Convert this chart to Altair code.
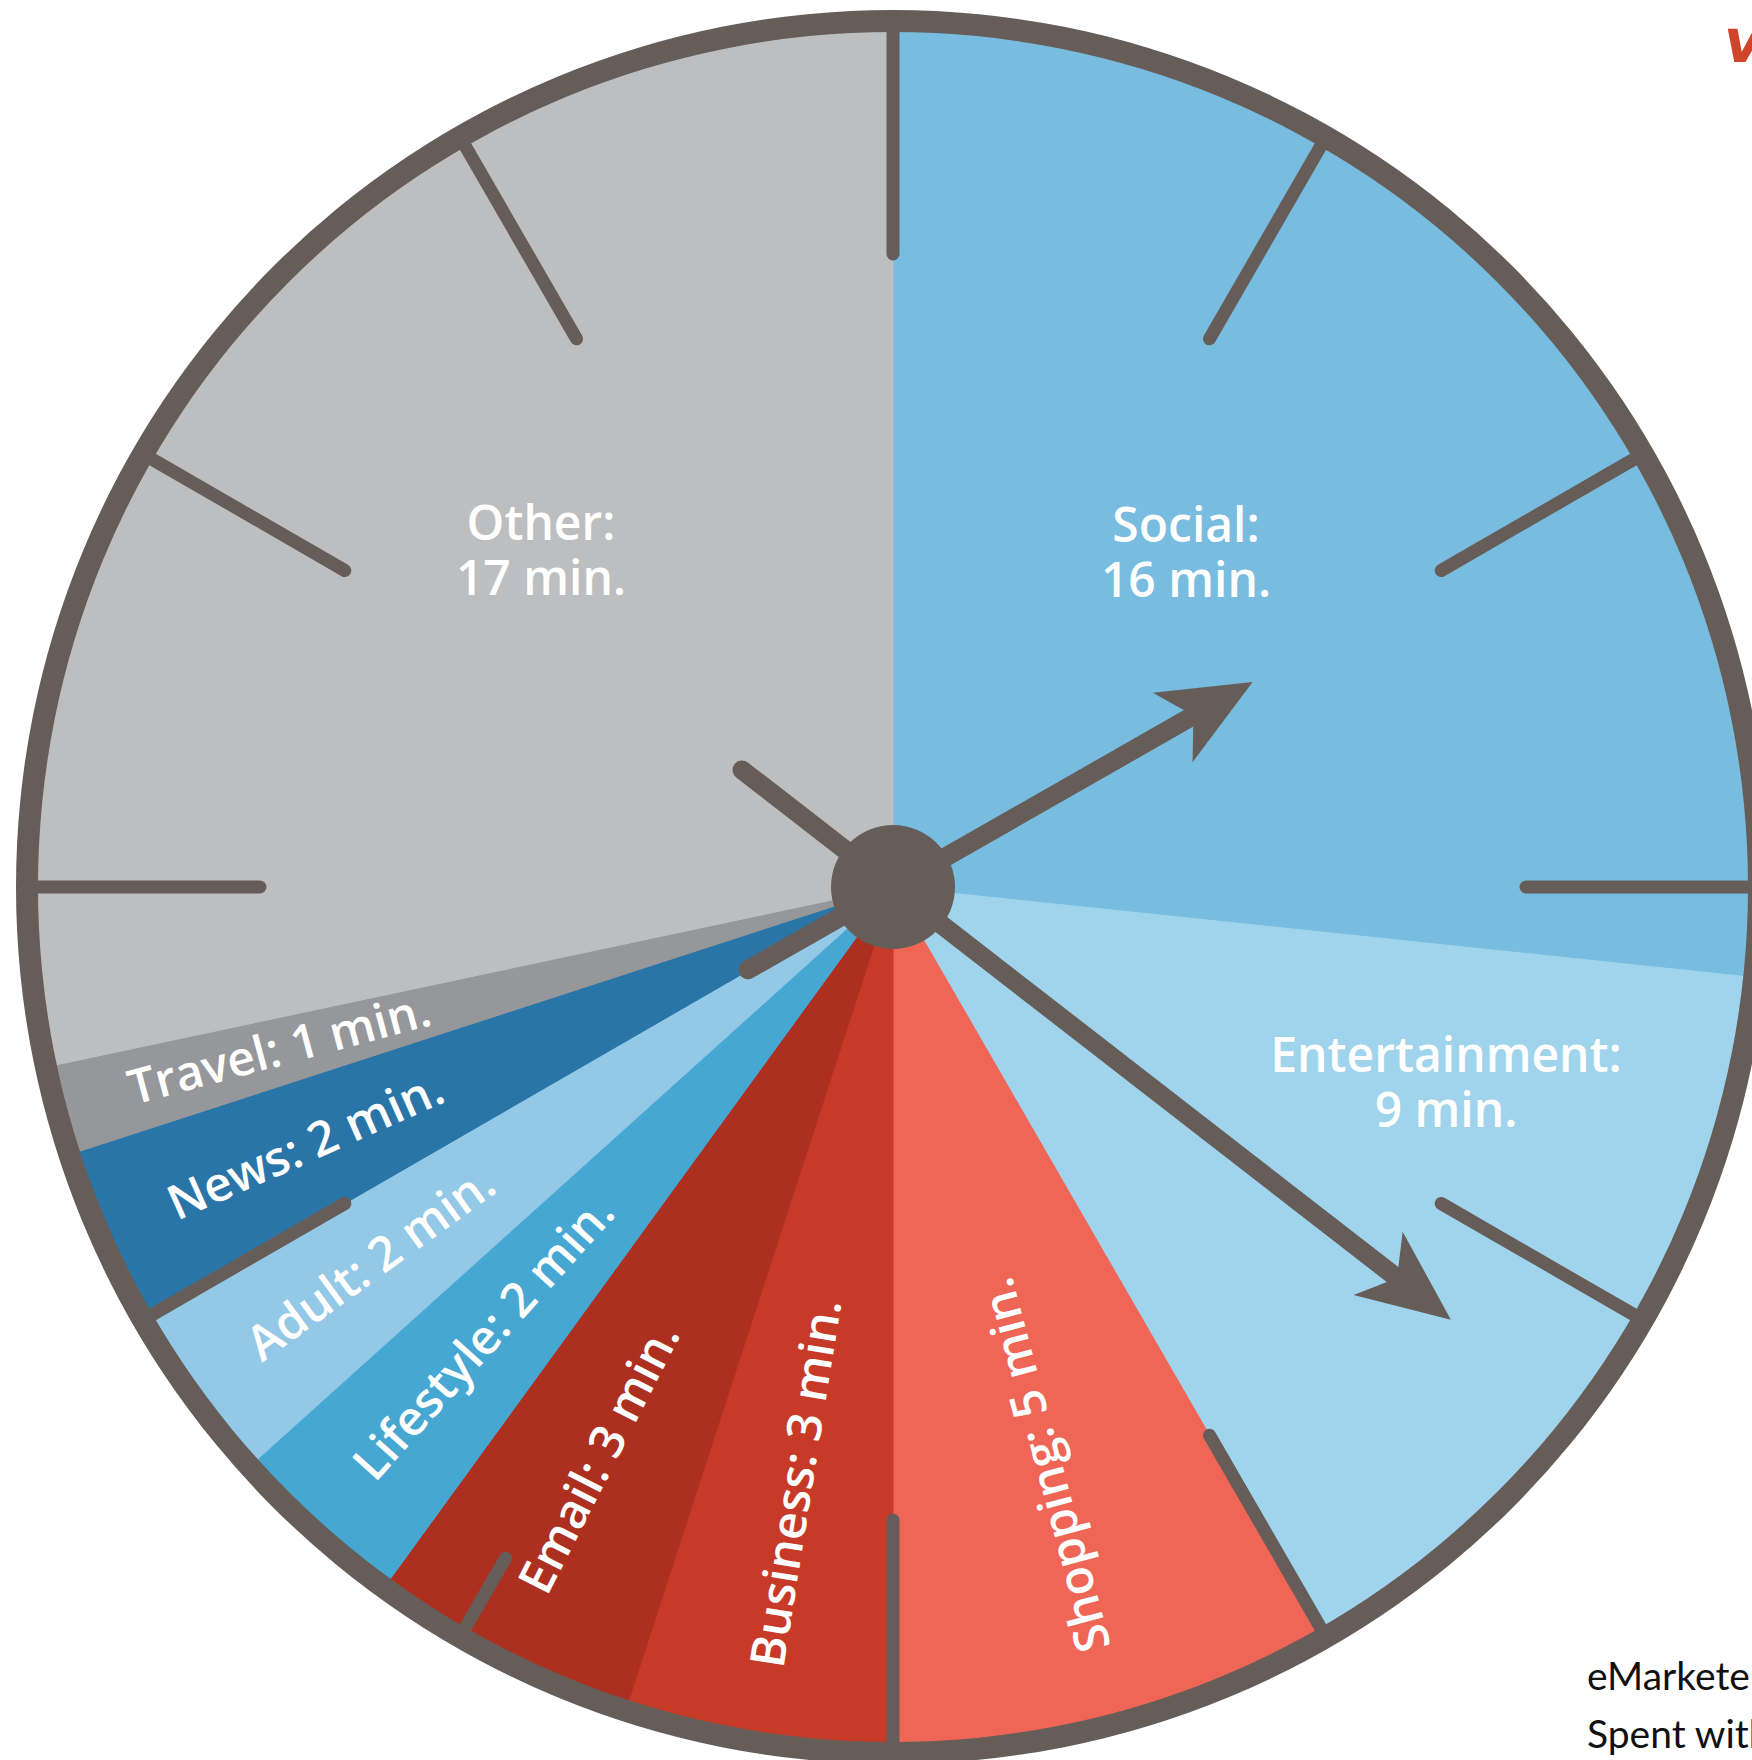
import altair as alt
import numpy as np
import pandas as pd

# ---------------- data ----------------
categories = ["Social", "Entertainment", "Shopping", "Business", "Email",
              "Lifestyle", "Adult", "News", "Travel", "Other"]
minutes = [16, 9, 5, 3, 3, 2, 2, 2, 1, 17]
slice_colors = ["#78BCDF", "#9FD4EC", "#EF6657", "#C73A27", "#AC2F1F",
                "#45A7D2", "#94C8E7", "#2A75A8", "#96979B", "#BDBEC0"]
big_categories = ["Social", "Entertainment", "Other"]

hours = list(range(12))

hand_names = ["hour", "minute"]
hand_angles = [60.3, 127.8]      # degrees clockwise from 12 o'clock
hand_tip = [414, 706]            # px from centre to arrow tip
hand_tail = [167, 191]           # px of counterweight tail

footer_lines = ["eMarketer", "Spent with"]
corner_text = "v"

# ---------------- layout ----------------
W, H = 1752, 1760
CX, CY = 893, 887
R_SLICE = 866
RIM_IN, RIM_OUT = 855, 877
TICK_IN = 633
TICK_IN_SHORT = {7: 775}
HUB_R = 62
DARK = "#675D58"
LABEL_R = 790
BIG_POS = {"Social": (1186, 542), "Entertainment": (1446, 1072), "Other": (541, 540)}
ARROW_PATH = "M0,-1L0.87,1L0,0.48L-0.87,1Z"
ARROW_HALF = 46

# ---------------- tables ----------------
df = pd.DataFrame({"cat": categories, "minutes": minutes, "idx": range(len(categories))})
total = float(sum(minutes))
cum = np.cumsum(minutes)
mid = (cum - np.array(minutes) / 2.0) / total * 360.0
df["text_angle"] = (mid + 90.0) % 360.0
df["rot_label"] = [("" if c in big_categories else f"{c}: {m} min.")
                   for c, m in zip(categories, minutes)]

big_df = pd.DataFrame({
    "label": [f"{c}:\n{m} min." for c, m in zip(categories, minutes) if c in big_categories],
    "px": [BIG_POS[c][0] for c in categories if c in big_categories],
    "py": [BIG_POS[c][1] for c in categories if c in big_categories],
})

tick_df = pd.DataFrame({"h": hours, "r_in": [TICK_IN_SHORT.get(h, TICK_IN) for h in hours]})
hand_df = pd.DataFrame({"name": hand_names, "a": hand_angles, "tip": hand_tip, "tail": hand_tail})

color_scale = alt.Scale(domain=categories, range=slice_colors)

# ---------------- layers ----------------
slices = alt.Chart(df).mark_arc(outerRadius=R_SLICE).encode(
    theta=alt.Theta("minutes:Q", stack=True),
    color=alt.Color("cat:N", scale=color_scale, legend=None),
    stroke=alt.Stroke("cat:N", scale=color_scale, legend=None),
    order=alt.Order("idx:Q"),
    x=alt.value(CX), y=alt.value(CY),
)

ticks = alt.Chart(tick_df).transform_calculate(
    x1=f"{CX} + datum.r_in * sin(datum.h * PI / 6)",
    y1=f"{CY} - datum.r_in * cos(datum.h * PI / 6)",
    x2=f"{CX} + {RIM_IN + 4} * sin(datum.h * PI / 6)",
    y2=f"{CY} - {RIM_IN + 4} * cos(datum.h * PI / 6)",
).mark_rule(color=DARK, strokeWidth=13, strokeCap="round").encode(
    x=alt.X("x1:Q", scale=None, axis=None),
    y=alt.Y("y1:Q", scale=None, axis=None),
    x2="x2:Q", y2="y2:Q",
)

rim = alt.Chart(pd.DataFrame({"k": [0]})).mark_arc(
    theta=0, theta2=2 * np.pi, innerRadius=RIM_IN, outerRadius=RIM_OUT, color=DARK
).encode(x=alt.value(CX), y=alt.value(CY))

rot_labels = alt.Chart(df).mark_text(
    align="left", baseline="middle", font="Open Sans", fontSize=48,
    fontWeight=600, color="white",
).encode(
    theta=alt.Theta("minutes:Q", stack=True),
    order=alt.Order("idx:Q"),
    radius=alt.value(LABEL_R),
    angle=alt.Angle("text_angle:Q", scale=None),
    text="rot_label:N",
    x=alt.value(CX), y=alt.value(CY),
)

big_labels = alt.Chart(big_df).mark_text(
    align="center", baseline="alphabetic", font="Open Sans", fontSize=48,
    fontWeight=600, color="white", lineBreak="\n", lineHeight=55,
).encode(
    x=alt.X("px:Q", scale=None, axis=None),
    y=alt.Y("py:Q", scale=None, axis=None),
    text="label:N",
)

shafts = alt.Chart(hand_df).transform_calculate(
    x1=f"{CX} - datum.tail * sin(datum.a * PI / 180)",
    y1=f"{CY} + datum.tail * cos(datum.a * PI / 180)",
    x2=f"{CX} + (datum.tip - 62) * sin(datum.a * PI / 180)",
    y2=f"{CY} - (datum.tip - 62) * cos(datum.a * PI / 180)",
).mark_rule(color=DARK, strokeWidth=19, strokeCap="round").encode(
    x=alt.X("x1:Q", scale=None, axis=None),
    y=alt.Y("y1:Q", scale=None, axis=None),
    x2="x2:Q", y2="y2:Q",
)

heads = alt.Chart(hand_df).transform_calculate(
    hx=f"{CX} + (datum.tip - {ARROW_HALF}) * sin(datum.a * PI / 180)",
    hy=f"{CY} - (datum.tip - {ARROW_HALF}) * cos(datum.a * PI / 180)",
).mark_point(
    shape=ARROW_PATH, size=(2 * ARROW_HALF) ** 2, filled=True, color=DARK,
    opacity=1, strokeWidth=0,
).encode(
    x=alt.X("hx:Q", scale=None, axis=None),
    y=alt.Y("hy:Q", scale=None, axis=None),
    angle=alt.Angle("a:Q", scale=None),
)

hub = alt.Chart(pd.DataFrame({"k": [0]})).mark_arc(
    theta=0, theta2=2 * np.pi, outerRadius=HUB_R, color=DARK
).encode(x=alt.value(CX), y=alt.value(CY))

footer_df = pd.DataFrame({"t": footer_lines, "fy": [1690, 1748]})
footer = alt.Chart(footer_df).mark_text(
    align="left", baseline="alphabetic", font="Lato", fontSize=39, color="#111111",
).encode(
    x=alt.value(1587),
    y=alt.Y("fy:Q", scale=None, axis=None),
    text="t:N",
)

corner = alt.Chart(pd.DataFrame({"t": [corner_text]})).mark_text(
    align="left", baseline="alphabetic", font="DejaVu Sans", fontSize=60,
    fontStyle="italic", fontWeight="bold", color="#D0452A",
).encode(x=alt.value(1724), y=alt.value(62), text="t:N")

chart = alt.layer(
    slices, ticks, rim, rot_labels, big_labels, shafts, heads, hub, footer, corner
).properties(
    width=W, height=H, padding=0, background="white",
    autosize=alt.AutoSizeParams(type="none"),
).configure_view(strokeWidth=0)

chart.save("out.html", embed_options={"renderer": "svg", "actions": False})
